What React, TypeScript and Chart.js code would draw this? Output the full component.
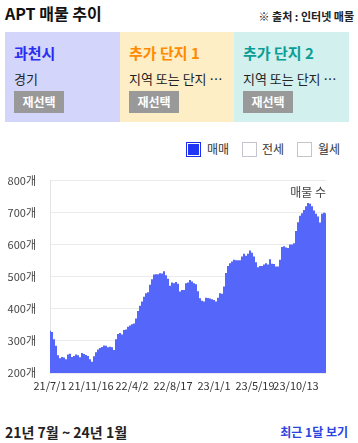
import React, { useEffect, useRef } from 'react';
import { Chart, registerables } from 'chart.js';

Chart.register(...registerables);

// x-axis tick labels (dates) and their day offsets from 21/7/1
const tickLabels = ['21/7/1', '21/11/16', '22/4/2', '22/8/17', '23/1/1', '23/5/19', '23/10/13'];
const tickDays = [0, 138, 276, 414, 552, 690, 828];
const totalDays = 929;

// y-axis ticks
const yTicks = [200, 300, 400, 500, 600, 700, 800];

// 매매 listing counts, sampled evenly across the period
const listings = [
  332, 328, 305, 285, 255, 246, 250, 248, 243, 258,
  260, 250, 253, 258, 255, 249, 262, 259, 256, 253,
  243, 235, 252, 265, 273, 278, 281, 286, 285, 280,
  282, 280, 272, 305, 322, 325, 320, 334, 336, 344,
  348, 352, 354, 370, 393, 410, 423, 438, 449, 452,
  475, 492, 507, 508, 508, 511, 510, 517, 505, 494,
  472, 482, 480, 484, 478, 454, 459, 459, 480, 482,
  490, 485, 480, 477, 455, 433, 425, 423, 435, 434,
  432, 430, 428, 423, 435, 449, 447, 470, 512, 534,
  542, 548, 553, 552, 552, 552, 563, 572, 566, 572,
  582, 575, 563, 545, 530, 534, 534, 538, 542, 538,
  555, 541, 540, 532, 532, 553, 593, 595, 591, 590,
  601, 601, 605, 643, 670, 690, 698, 708, 720, 730,
  728, 720, 707, 697, 688, 669, 697, 700, 698,
];

const seriesName = '매물 수';
const legendItems = ['매매', '전세', '월세'];
const cards = [
  { title: '과천시', sub: '경기', bg: '#d4d5fb', color: '#2b2df2' },
  { title: '추가 단지 1', sub: '지역 또는 단지 …', bg: '#fdeec5', color: '#ff8a00' },
  { title: '추가 단지 2', sub: '지역 또는 단지 …', bg: '#d2f0ee', color: '#0a9e94' },
];

const FONT = '"Noto Sans CJK KR", "Noto Sans", sans-serif';

function ListingChart() {
  const ref = useRef<HTMLCanvasElement | null>(null);
  useEffect(() => {
    if (!ref.current) return;
    const n = listings.length;
    const points = listings.map((v, i) => ({ x: (i * totalDays) / (n - 1), y: v }));
    const labelPlugin = {
      id: 'seriesLabel',
      afterDatasetsDraw(chart: any) {
        const { ctx, chartArea } = chart;
        ctx.save();
        ctx.font = `12px ${FONT}`;
        ctx.fillStyle = '#444';
        ctx.textAlign = 'right';
        ctx.textBaseline = 'middle';
        ctx.fillText(seriesName, chartArea.right, chartArea.top + 12);
        ctx.restore();
      },
    };
    const chart = new Chart(ref.current, {
      type: 'line',
      data: {
        datasets: [
          {
            label: seriesName,
            data: points,
            stepped: 'middle',
            fill: 'start',
            backgroundColor: 'rgb(85,102,250)',
            borderColor: 'rgba(0,0,0,0)',
            borderWidth: 0,
            pointRadius: 0,
            pointHoverRadius: 0,
          },
        ],
      },
      options: {
        animation: false,
        responsive: false,
        events: [],
        layout: { padding: { left: 0, right: 32, top: 17, bottom: 0 } },
        plugins: { legend: { display: false }, tooltip: { enabled: false } },
        scales: {
          x: {
            type: 'linear',
            min: 0,
            max: totalDays,
            grid: { display: false, drawTicks: false },
            border: { display: false },
            afterBuildTicks: (axis: any) => {
              axis.ticks = tickDays.map((d) => ({ value: d }));
            },
            afterFit: (scale: any) => {
              scale.height = 27;
            },
            ticks: {
              autoSkip: false,
              maxRotation: 0,
              minRotation: 0,
              padding: 6,
              color: '#333',
              font: { size: 11, family: FONT },
              callback: (_v: any, i: number) => tickLabels[i],
            },
          },
          y: {
            min: yTicks[0],
            max: yTicks[yTicks.length - 1],
            grid: { color: '#ebebeb', drawTicks: false },
            border: { display: true, color: '#e4e4e4' },
            afterBuildTicks: (axis: any) => {
              axis.ticks = yTicks.map((v) => ({ value: v }));
            },
            afterFit: (scale: any) => {
              scale.width = 50;
            },
            ticks: {
              padding: 14,
              color: '#444',
              font: { size: 11, family: FONT },
              callback: (v: any) => `${v}개`,
            },
          },
        },
      },
      plugins: [labelPlugin],
    } as any);
    return () => chart.destroy();
  }, []);
  return <canvas ref={ref} width={358} height={240} style={{ width: 358, height: 240, display: 'block' }} />;
}

function Txt(props: { left?: number; right?: number; cy: number; size: number; bold?: boolean; color: string; children: any }) {
  const { left, right, cy, size, bold, color, children } = props;
  return (
    <div
      style={{
        position: 'absolute',
        left,
        right,
        top: cy - 10,
        height: 20,
        lineHeight: '20px',
        fontSize: size,
        fontWeight: bold ? 700 : 400,
        color,
        whiteSpace: 'nowrap',
      }}
    >
      {children}
    </div>
  );
}

export default function App() {
  const cardLefts = [5, 120, 234];
  const cardWidths = [115, 114, 115];
  const boxLefts = [186, 242, 297];
  const textLefts = [207, 262, 318];
  return (
    <div
      style={{
        position: 'absolute',
        left: 0,
        top: 0,
        width: 358,
        height: 443,
        background: '#fff',
        fontFamily: FONT,
        overflow: 'hidden',
      }}
    >
      <Txt left={5} cy={13} size={16} bold color="#111">APT 매물 추이</Txt>
      <Txt right={4} cy={16} size={11} bold color="#222">※ 출처 : 인터넷 매물</Txt>

      {cards.map((c, i) => (
        <div
          key={i}
          style={{
            position: 'absolute',
            left: cardLefts[i],
            top: 32,
            width: cardWidths[i],
            height: 90,
            background: c.bg,
          }}
        >
          <Txt left={9} cy={21} size={15} bold color={c.color}>{c.title}</Txt>
          <Txt left={9} cy={47} size={13} color="#222">{c.sub}</Txt>
          <div
            style={{
              position: 'absolute',
              left: 9,
              top: 59,
              width: 50,
              height: 22,
              background: '#999',
              color: '#fff',
              fontSize: 12,
              fontWeight: 700,
              lineHeight: '22px',
              textAlign: 'center',
            }}
          >
            재선택
          </div>
        </div>
      ))}

      {legendItems.map((t, i) => (
        <React.Fragment key={t}>
          <div
            style={{
              position: 'absolute',
              left: boxLefts[i],
              top: 142,
              width: 13,
              height: 13,
              border: i === 0 ? '1px solid #1a2ee8' : '1px solid #c4c4cc',
              background: i === 0 ? '#2236f5' : '#fff',
              boxShadow: i === 0 ? 'inset 0 0 0 1px #fff' : 'none',
            }}
          />
          <Txt left={textLefts[i]} cy={149} size={12} color="#333">{t}</Txt>
        </React.Fragment>
      ))}

      <div style={{ position: 'absolute', left: 0, top: 160, width: 358, height: 240 }}>
        <ListingChart />
      </div>

      <Txt left={5} cy={432} size={14} bold color="#222">21년 7월 ~ 24년 1월</Txt>
      <Txt right={10} cy={432} size={12} bold color="#2a45e0">최근 1달 보기</Txt>
    </div>
  );
}
